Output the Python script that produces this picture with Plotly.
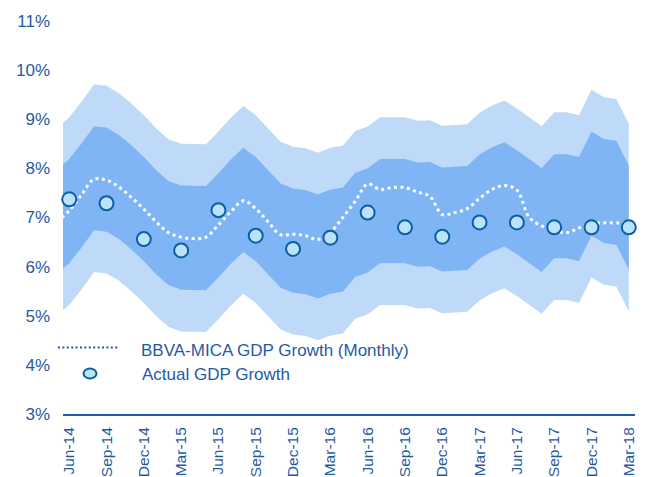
import plotly.graph_objects as go

# ---------------- data ----------------
# monthly index: -1 = May-14, 0 = Jun-14 ... 45 = Mar-18
month_idx = list(range(-1, 46))

# centre of the forecast fan (monthly)
band_center = [6.91, 7.13, 7.45, 7.80, 7.77, 7.62, 7.41, 7.17, 6.90, 6.68,
               6.59, 6.58, 6.58, 6.84, 7.12, 7.36, 7.17, 6.90, 6.63, 6.53,
               6.50, 6.41, 6.51, 6.55, 6.85, 6.94, 7.13, 7.13, 7.13, 7.06,
               7.07, 6.96, 6.98, 6.99, 7.22, 7.37, 7.47, 7.31, 7.13, 6.95,
               7.23, 7.23, 7.17, 7.69, 7.54, 7.50, 7.00]
inner_halfwidth = 1.06
outer_halfwidth = 1.91

# BBVA-MICA GDP growth (monthly)
mica_monthly = [6.91, 7.14, 7.47, 7.78, 7.76, 7.62, 7.41, 7.17, 6.91, 6.69,
                6.60, 6.57, 6.60, 6.85, 7.12, 7.34, 7.18, 6.91, 6.65, 6.66,
                6.63, 6.55, 6.70, 7.00, 7.33, 7.68, 7.57, 7.61, 7.61, 7.52,
                7.43, 7.06, 7.10, 7.18, 7.39, 7.57, 7.65, 7.56, 7.00, 6.83,
                6.74, 6.69, 6.79, 6.88, 6.89, 6.89, 6.89]

# actual GDP growth (quarterly)
quarter_idx = list(range(0, 46, 3))
actual_gdp = [7.37, 7.29, 6.56, 6.33, 7.15, 6.63, 6.36, 6.59,
              7.10, 6.80, 6.61, 6.90, 6.90, 6.80, 6.80, 6.80]

tick_labels = ["Jun-14", "Sep-14", "Dec-14", "Mar-15", "Jun-15", "Sep-15",
               "Dec-15", "Mar-16", "Jun-16", "Sep-16", "Dec-16", "Mar-17",
               "Jun-17", "Sep-17", "Dec-17", "Mar-18"]

y_ticks = [3, 4, 5, 6, 7, 8, 9, 10, 11]

legend_labels = ["BBVA-MICA GDP Growth (Monthly)", "Actual GDP Growth"]

# ---------------- styling ----------------
BLUE = "#1F5AA5"
LIGHT = "#BFDAF8"
MEDIUM = "#7FB5F4"
CIRCLE_FILL = "#BBE2F6"
CIRCLE_LINE = "#0B5FA5"
FONT = "Liberation Sans, Arial, sans-serif"

outer_lo = [c - outer_halfwidth for c in band_center]
outer_hi = [c + outer_halfwidth for c in band_center]
inner_lo = [c - inner_halfwidth for c in band_center]
inner_hi = [c + inner_halfwidth for c in band_center]

fig = go.Figure()
fig.add_trace(go.Scatter(x=month_idx, y=outer_lo, mode="lines",
                         line=dict(width=0, color=LIGHT), showlegend=False,
                         hoverinfo="skip"))
fig.add_trace(go.Scatter(x=month_idx, y=outer_hi, mode="lines", fill="tonexty",
                         fillcolor=LIGHT, line=dict(width=0, color=LIGHT),
                         showlegend=False, hoverinfo="skip"))
fig.add_trace(go.Scatter(x=month_idx, y=inner_lo, mode="lines",
                         line=dict(width=0, color=MEDIUM), showlegend=False,
                         hoverinfo="skip"))
fig.add_trace(go.Scatter(x=month_idx, y=inner_hi, mode="lines", fill="tonexty",
                         fillcolor=MEDIUM, line=dict(width=0, color=MEDIUM),
                         showlegend=False, hoverinfo="skip"))
fig.add_trace(go.Scatter(x=month_idx, y=mica_monthly, mode="lines",
                         name=legend_labels[0],
                         line=dict(color="white", width=3, dash="3px,3.5px",
                                   shape="spline", smoothing=1),
                         showlegend=False))
fig.add_trace(go.Scatter(x=quarter_idx, y=actual_gdp, mode="markers",
                         name=legend_labels[1], cliponaxis=False,
                         marker=dict(size=14, color=CIRCLE_FILL,
                                     line=dict(color=CIRCLE_LINE, width=2)),
                         showlegend=False))

# ----- page geometry (the html body has an 8px margin) -----
OFF = 8
W, H = 645 - OFF, 477 - OFF
L, R, T, B = 63 - OFF, 10, 21 - OFF, 63
pw, ph = W - L - R, H - T - B


def px_x(px):
    return (px - OFF - L) / pw


def px_y(py):
    return (H - B - (py - OFF)) / ph


# ----- hand-drawn legend (matches the reference's layout) -----
fig.add_shape(type="line", xref="paper", yref="paper",
              x0=px_x(58), x1=px_x(118), y0=px_y(347.5), y1=px_y(347.5),
              line=dict(color=BLUE, width=2, dash="2px,2.4px"))
fig.add_shape(type="circle", xref="paper", yref="paper",
              x0=px_x(83.5), x1=px_x(96.5), y0=px_y(378.5), y1=px_y(368.5),
              line=dict(color=CIRCLE_LINE, width=2), fillcolor=CIRCLE_FILL)
fig.add_annotation(xref="paper", yref="paper", x=px_x(139), y=px_y(350),
                   text=legend_labels[0], showarrow=False, xanchor="left",
                   yanchor="middle", font=dict(family=FONT, size=17, color=BLUE))
fig.add_annotation(xref="paper", yref="paper", x=px_x(140), y=px_y(374),
                   text=legend_labels[1], showarrow=False, xanchor="left",
                   yanchor="middle", font=dict(family=FONT, size=17, color=BLUE))

fig.update_layout(
    width=W, height=H,
    margin=dict(l=L, r=R, t=T, b=B, pad=0, autoexpand=False),
    paper_bgcolor="white", plot_bgcolor="white",
    font=dict(family=FONT, color=BLUE),
    showlegend=False,
    xaxis=dict(range=[-0.5, 45.5], showgrid=False, zeroline=False,
               automargin=False,
               showline=True, linecolor=BLUE, linewidth=2,
               tickmode="array", tickvals=quarter_idx, ticktext=tick_labels,
               tickangle=-90, ticks="", ticklabelstandoff=5,
               tickfont=dict(family=FONT, size=15.5, color=BLUE)),
    yaxis=dict(range=[3, 11], showgrid=False, zeroline=False, showline=False,
               automargin=False,
               tickmode="array", tickvals=y_ticks,
               ticktext=[f"{v}%" for v in y_ticks], ticks="",
               ticklabelstandoff=12,
               tickfont=dict(family=FONT, size=17, color=BLUE)),
)

fig.write_html("out.html")
